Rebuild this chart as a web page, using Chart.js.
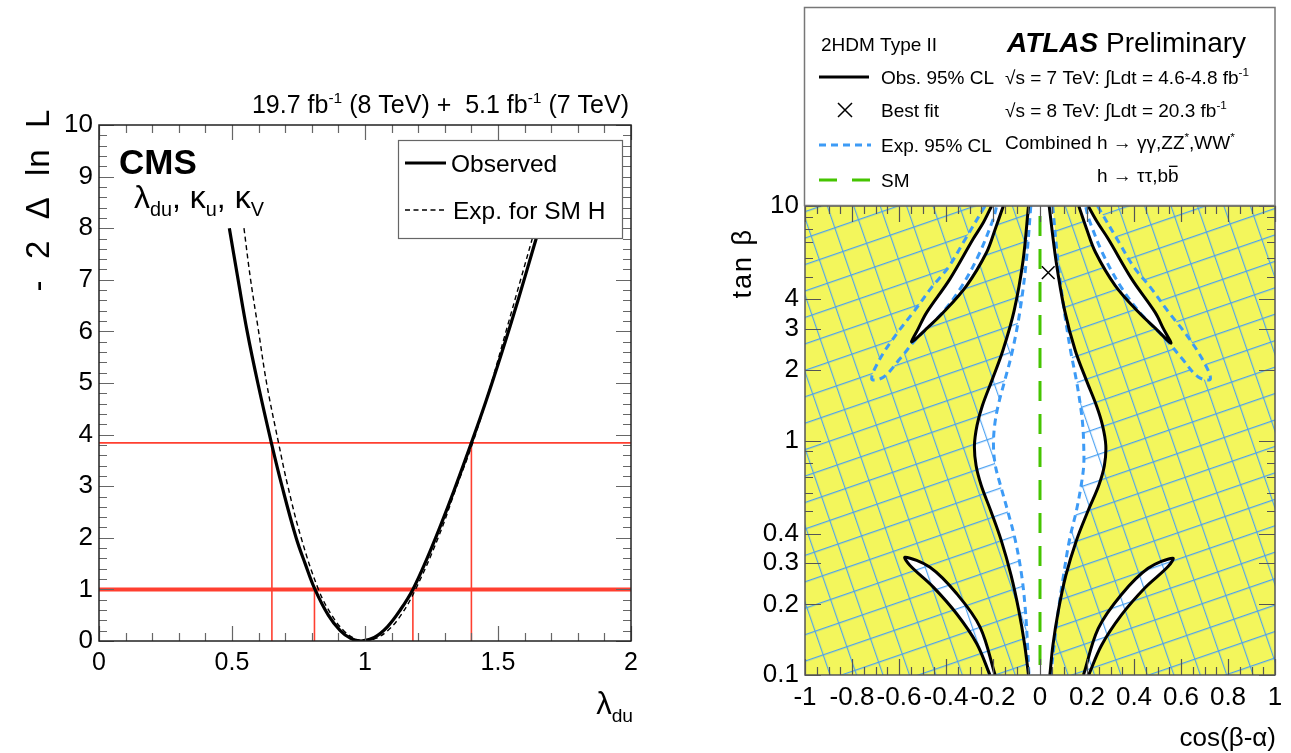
<!DOCTYPE html>
<html lang="en">
<head>
  <meta charset="UTF-8" />
  <title>lambda_du scan and 2HDM type II limits</title>
  <script src="https://cdn.jsdelivr.net/npm/chart.js"></script>
  <style>
    body { margin: 0; background: #fff; width: 1291px; height: 753px; overflow: hidden; }
    canvas { position: absolute; top: 0; }
    #cms { left: 0; }
    #atlas { left: 650px; }
  </style>
</head>
<body>
  <canvas id="cms" width="650" height="753"></canvas>
  <canvas id="atlas" width="641" height="753"></canvas>

  <script>
    // ---- CMS: -2 Delta ln L versus lambda_du ----
    const lambdaObs = [0.49, 0.523, 0.557, 0.597, 0.648, 0.688, 0.741, 0.775, 0.812, 0.862, 0.907, 0.946, 0.985,
                       1.035, 1.085, 1.135, 1.18, 1.235, 1.285, 1.335, 1.40, 1.455, 1.515, 1.575, 1.635, 1.655];
    const nllObs    = [8, 7, 6, 5, 3.84, 3, 2, 1.5, 1, 0.5, 0.2, 0.05, 0,
                       0.07, 0.28, 0.62, 1, 1.62, 2.25, 2.92, 3.84, 4.65, 5.6, 6.6, 7.65, 8.0];
    const lambdaExp = [0.545, 0.57, 0.60, 0.63, 0.675, 0.71, 0.76, 0.825, 0.875, 0.92, 0.96, 1.0,
                       1.04, 1.085, 1.135, 1.19, 1.275, 1.345, 1.405, 1.475, 1.53, 1.585, 1.64];
    const nllExp    = [8, 7, 6, 5, 3.84, 3, 2, 1, 0.5, 0.2, 0.05, 0,
                       0.05, 0.2, 0.5, 1, 2, 3, 3.84, 5, 6, 7, 8];
    const nllLevels = [1, 3.84];
    const lambdaCl68 = [0.81, 1.18];
    const lambdaCl95 = [0.65, 1.40];
    const lambdaTicks = [0, 0.5, 1, 1.5, 2];
    const nllTicks = [0, 1, 2, 3, 4, 5, 6, 7, 8, 9, 10];

    // ---- ATLAS: 2HDM type II, cos(beta-alpha) vs tan beta, [x, y] pairs ----
    const cosTicks = [-1, -0.8, -0.6, -0.4, -0.2, 0, 0.2, 0.4, 0.6, 0.8, 1];
    const tanbTicks = [0.1, 0.2, 0.3, 0.4, 1, 2, 3, 4, 10];

    const obsCentreLeft = [[-0.049, 10], [-0.072, 5.86], [-0.11, 3.58], [-0.158, 2.42], [-0.205, 1.80], [-0.245, 1.41],
      [-0.268, 1.16], [-0.279, 0.952], [-0.272, 0.782], [-0.25, 0.643], [-0.21, 0.503], [-0.165, 0.375],
      [-0.123, 0.266], [-0.09, 0.188], [-0.065, 0.134], [-0.049, 0.1]];
    const obsCentreRight = [[0.039, 10], [0.068, 5.86], [0.105, 3.58], [0.15, 2.42], [0.198, 1.80], [0.24, 1.41],
      [0.266, 1.16], [0.28, 0.952], [0.274, 0.782], [0.25, 0.643], [0.205, 0.503], [0.155, 0.375],
      [0.11, 0.266], [0.078, 0.188], [0.055, 0.134], [0.042, 0.1]];
    const expCentreLeft = [[-0.039, 10], [-0.058, 5.86], [-0.085, 3.58], [-0.117, 2.42], [-0.15, 1.80], [-0.178, 1.41],
      [-0.193, 1.16], [-0.198, 0.952], [-0.19, 0.782], [-0.168, 0.643], [-0.138, 0.503], [-0.105, 0.375],
      [-0.078, 0.266], [-0.062, 0.188], [-0.053, 0.134], [-0.047, 0.1]];
    const expCentreRight = [[0.054, 10], [0.076, 5.86], [0.103, 3.58], [0.13, 2.42], [0.155, 1.80], [0.172, 1.41],
      [0.182, 1.16], [0.186, 0.952], [0.186, 0.782], [0.175, 0.643], [0.155, 0.503], [0.125, 0.375],
      [0.10, 0.266], [0.078, 0.188], [0.06, 0.134], [0.046, 0.1]];

    const obsLobeLeftOuter = [[-0.206, 10], [-0.241, 8.5], [-0.284, 7.25], [-0.383, 4.89], [-0.482, 3.52], [-0.518, 3.0], [-0.546, 2.63]];
    const obsLobeLeftInner = [[-0.156, 10], [-0.19, 8.0], [-0.227, 6.35], [-0.312, 4.58], [-0.411, 3.52], [-0.49, 2.95], [-0.546, 2.63]];
    const obsLobeRightOuter = [[0.205, 10], [0.245, 8.5], [0.29, 7.25], [0.39, 4.89], [0.49, 3.52], [0.525, 3.0], [0.557, 2.6]];
    const obsLobeRightInner = [[0.165, 10], [0.198, 8.0], [0.236, 6.35], [0.32, 4.58], [0.42, 3.52], [0.5, 2.95], [0.557, 2.6]];

    const expLobeLeftOuter = [[-0.234, 10], [-0.326, 7.0], [-0.39, 5.48], [-0.461, 4.5], [-0.539, 3.52], [-0.61, 2.85], [-0.681, 2.23], [-0.716, 1.83]];
    const expLobeLeftInner = [[-0.184, 10], [-0.199, 8.8], [-0.262, 6.15], [-0.34, 4.43], [-0.426, 3.41], [-0.532, 2.67], [-0.596, 2.23], [-0.667, 1.86]];
    const expLobeRightOuter = [[0.245, 10], [0.336, 7.0], [0.4, 5.48], [0.47, 4.5], [0.548, 3.52], [0.62, 2.85], [0.69, 2.23], [0.725, 1.83]];
    const expLobeRightInner = [[0.194, 10], [0.208, 8.8], [0.271, 6.15], [0.35, 4.43], [0.436, 3.41], [0.54, 2.67], [0.605, 2.23], [0.675, 1.86]];

    const obsLowLeftUpper = [[-0.574, 0.318], [-0.468, 0.288], [-0.354, 0.222], [-0.255, 0.16], [-0.191, 0.1]];
    const obsLowLeftLower = [[-0.574, 0.318], [-0.553, 0.293], [-0.454, 0.237], [-0.354, 0.182], [-0.269, 0.136], [-0.213, 0.1]];
    const obsLowRightUpper = [[0.565, 0.315], [0.46, 0.285], [0.346, 0.22], [0.248, 0.158], [0.185, 0.1]];
    const obsLowRightLower = [[0.565, 0.315], [0.545, 0.29], [0.446, 0.235], [0.346, 0.18], [0.262, 0.134], [0.207, 0.1]];

    const bestFit = [0.035, 5.2];
    const smCos = 0;

    // ---- styles ----
    const FONT = '"Liberation Sans", Arial, Helvetica, sans-serif';
    const RED = '#ff3f30';
    const BLUE = '#3d9bf6';
    const GREEN = '#45c400';
    const YELLOW = '#f3f65c';
    const HATCH = '#4aa0f2';

    const xy = (xs, ys) => xs.map((x, i) => ({ x: x, y: ys[i] }));
    const pts = arr => arr.map(p => ({ x: p[0], y: p[1] }));
    const loop = (a, b) => pts(a.concat(b.slice().reverse()));

    function richText(ctx, x, y, parts, size, align) {
      const fontOf = (m, st) => (st || '') + ' ' + ((m === 'sup' || m === 'sub') ? size * 0.62 : size) + 'px ' + FONT;
      let total = 0;
      const widths = parts.map(([t, m, st]) => {
        ctx.font = fontOf(m, st);
        const w = ctx.measureText(t).width;
        total += w;
        return w;
      });
      let cx = align === 'right' ? x - total : align === 'center' ? x - total / 2 : x;
      ctx.textAlign = 'left';
      ctx.textBaseline = 'alphabetic';
      parts.forEach(([t, m, st], i) => {
        ctx.font = fontOf(m, st);
        const dy = m === 'sup' ? -size * 0.42 : m === 'sub' ? size * 0.25 : 0;
        ctx.fillText(t, cx, y + dy);
        if (m === 'bar') {
          ctx.fillRect(cx + 1, y - size * 0.86, widths[i] - 2, 1.3);
        }
        cx += widths[i];
      });
    }

    function frameTicks(o) {
      return {
        id: 'frameTicks',
        afterDatasetsDraw(chart) {
          const { ctx, chartArea: a, scales } = chart;
          ctx.save();
          ctx.strokeStyle = o.tickColor;
          ctx.lineWidth = 1.2;
          ctx.beginPath();
          o.xMinor.forEach(v => {
            const len = o.xMajor.includes(v) ? o.major : o.minor;
            const px = Math.round(scales.x.getPixelForValue(v)) + 0.5;
            ctx.moveTo(px, a.bottom); ctx.lineTo(px, a.bottom - len);
            ctx.moveTo(px, a.top); ctx.lineTo(px, a.top + len);
          });
          o.yMinor.forEach(v => {
            const len = o.yMajor.includes(v) ? o.major : o.minor;
            const py = Math.round(scales.y.getPixelForValue(v)) + 0.5;
            ctx.moveTo(a.left, py); ctx.lineTo(a.left + len, py);
            ctx.moveTo(a.right, py); ctx.lineTo(a.right - len, py);
          });
          ctx.stroke();
          ctx.strokeStyle = o.frameColor;
          ctx.lineWidth = o.frameWidth;
          ctx.strokeRect(a.left, a.top, a.right - a.left, a.bottom - a.top);
          ctx.restore();
        }
      };
    }

    // minor tick positions (axis decoration only)
    const steps = (from, to, step) => {
      const out = [];
      for (let v = from; v <= to + 1e-9; v += step) out.push(Math.round(v * 1000) / 1000);
      return out;
    };

    // ================= CMS chart =================
    const cmsDecor = {
      id: 'cmsDecor',
      afterDatasetsDraw(chart) {
        const ctx = chart.ctx;
        ctx.save();
        // legend box
        ctx.fillStyle = '#fff';
        ctx.fillRect(398, 140, 224, 98);
        ctx.strokeStyle = '#666';
        ctx.lineWidth = 1.2;
        ctx.strokeRect(398.5, 140.5, 224, 98);
        ctx.strokeStyle = '#000';
        ctx.lineWidth = 3;
        ctx.beginPath(); ctx.moveTo(405, 163); ctx.lineTo(446, 163); ctx.stroke();
        ctx.lineWidth = 1.4;
        ctx.setLineDash([5, 3.5]);
        ctx.beginPath(); ctx.moveTo(405, 210); ctx.lineTo(446, 210); ctx.stroke();
        ctx.setLineDash([]);
        ctx.fillStyle = '#000';
        ctx.font = '24.5px ' + FONT;
        ctx.textAlign = 'left';
        ctx.fillText('Observed', 451, 172);
        ctx.fillText('Exp. for SM H', 453, 219);
        // CMS label
        ctx.font = 'bold 35px ' + FONT;
        ctx.fillText('CMS', 119, 174);
        richText(ctx, 134, 208, [['\u03bb'], ['du', 'sub'], [', \u03ba'], ['u', 'sub'], [', \u03ba'], ['V', 'sub']], 32, 'left');
        ctx.restore();
      },
      afterDraw(chart) {
        const ctx = chart.ctx;
        ctx.save();
        ctx.fillStyle = '#000';
        richText(ctx, 629, 113, [['19.7 fb'], ['-1', 'sup'], [' (8 TeV) +  5.1 fb'], ['-1', 'sup'], [' (7 TeV)']], 25, 'right');
        richText(ctx, 633, 714, [['\u03bb'], ['du', 'sub']], 31, 'right');
        ctx.translate(40, 200);
        ctx.rotate(-Math.PI / 2);
        ctx.font = '33px ' + FONT;
        ctx.letterSpacing = '1px';
        ctx.textAlign = 'center';
        ctx.textBaseline = 'middle';
        ctx.fillText('-  2  \u0394  ln  L', 0, 0);
        ctx.restore();
      }
    };

    const redLine = (data, w) => ({
      data: data, borderColor: RED, borderWidth: w, pointRadius: 0, tension: 0, fill: false, order: 3
    });

    new Chart(document.getElementById('cms'), {
      type: 'line',
      data: {
        datasets: [
          { data: xy(lambdaObs, nllObs), borderColor: '#000', borderWidth: 3.2, pointRadius: 0, tension: 0.4, fill: false, order: 1 },
          { data: xy(lambdaExp, nllExp), borderColor: '#000', borderWidth: 1.4, borderDash: [5, 3.5], pointRadius: 0, tension: 0.4, fill: false, order: 2 },
          redLine([{ x: 0, y: nllLevels[0] }, { x: 2, y: nllLevels[0] }], 4),
          redLine([{ x: 0, y: nllLevels[1] }, { x: 2, y: nllLevels[1] }], 1.6),
          redLine([{ x: lambdaCl68[0], y: 0 }, { x: lambdaCl68[0], y: nllLevels[0] }], 1.6),
          redLine([{ x: lambdaCl68[1], y: 0 }, { x: lambdaCl68[1], y: nllLevels[0] }], 1.6),
          redLine([{ x: lambdaCl95[0], y: 0 }, { x: lambdaCl95[0], y: nllLevels[1] }], 1.6),
          redLine([{ x: lambdaCl95[1], y: 0 }, { x: lambdaCl95[1], y: nllLevels[1] }], 1.6)
        ]
      },
      options: {
        responsive: false,
        animation: false,
        events: [],
        layout: { padding: { left: 0, right: 19, top: 125, bottom: 72 } },
        plugins: { legend: { display: false }, tooltip: { enabled: false } },
        scales: {
          x: {
            type: 'linear', min: 0, max: 2,
            grid: { display: false, drawTicks: false }, border: { display: false },
            afterBuildTicks: s => { s.ticks = lambdaTicks.map(v => ({ value: v })); },
            afterFit: s => { s.height = 40; },
            ticks: { font: { family: FONT, size: 25 }, color: '#000', padding: 7, maxRotation: 0, autoSkip: false,
                     callback: v => String(v) }
          },
          y: {
            type: 'linear', min: 0, max: 10,
            grid: { display: false, drawTicks: false }, border: { display: false },
            afterBuildTicks: s => { s.ticks = nllTicks.map(v => ({ value: v })); },
            afterFit: s => { s.width = 99; },
            ticks: { font: { family: FONT, size: 26 }, color: '#000', padding: 6, autoSkip: false,
                     callback: v => String(v) }
          }
        }
      },
      plugins: [
        frameTicks({ xMajor: lambdaTicks, xMinor: steps(0, 2, 0.1), yMajor: nllTicks, yMinor: steps(0, 10, 0.2),
                     major: 15, minor: 8, tickColor: '#666', frameColor: '#222', frameWidth: 1.5 }),
        cmsDecor
      ]
    });

    // ================= ATLAS chart =================
    const atlasCtx = document.getElementById('atlas').getContext('2d');
    function hatchPattern(bg) {
      const n = 25;
      const tile = document.createElement('canvas');
      tile.width = n; tile.height = n;
      const g = tile.getContext('2d');
      g.fillStyle = bg;
      g.fillRect(0, 0, n, n);
      g.strokeStyle = HATCH;
      g.lineWidth = 1.1;
      g.beginPath();
      g.moveTo(0, 0.6); g.lineTo(n, 0.6);
      g.moveTo(0.6, 0); g.lineTo(0.6, n);
      g.stroke();
      const p = atlasCtx.createPattern(tile, 'repeat');
      p.setTransform(new DOMMatrix().rotateSelf(-19));
      return p;
    }
    const yellowHatch = hatchPattern(YELLOW);
    const whiteHatch = hatchPattern('#fff');

    const area = (data, colour, order) => ({
      data: data, backgroundColor: colour, borderWidth: 0, pointRadius: 0, tension: 0.35, fill: 'shape', order: order
    });
    const contour = (data, colour, dash, order) => ({
      data: data, borderColor: colour, borderWidth: 3, borderDash: dash, pointRadius: 0, tension: 0.35, fill: false, order: order
    });

    const obsCentre = loop(obsCentreLeft, obsCentreRight);
    const expCentre = loop(expCentreLeft, expCentreRight);
    const obsLobeL = loop(obsLobeLeftOuter, obsLobeLeftInner.slice(0, -1));
    const obsLobeR = loop(obsLobeRightOuter, obsLobeRightInner.slice(0, -1));
    const expLobeL = loop(expLobeLeftOuter, expLobeLeftInner);
    const expLobeR = loop(expLobeRightOuter, expLobeRightInner);
    const obsLowL = loop(obsLowLeftUpper.slice().reverse(), obsLowLeftLower.slice(1).reverse());
    const obsLowR = loop(obsLowRightUpper.slice().reverse(), obsLowRightLower.slice(1).reverse());

    const atlasDecor = {
      id: 'atlasDecor',
      beforeDatasetsDraw(chart) {
        const { ctx, chartArea: a } = chart;
        ctx.save();
        ctx.fillStyle = yellowHatch;
        ctx.fillRect(a.left, a.top, a.right - a.left, a.bottom - a.top);
        ctx.restore();
      },
      afterDraw(chart) {
        const ctx = chart.ctx;
        ctx.save();
        ctx.translate(-650, 0);
        // legend / label box
        ctx.fillStyle = '#fff';
        ctx.fillRect(804, 7, 471, 198);
        ctx.strokeStyle = '#777';
        ctx.lineWidth = 1.5;
        ctx.strokeRect(804.5, 7.5, 470.5, 198);
        ctx.fillStyle = '#000';
        ctx.font = '19px ' + FONT;
        ctx.textAlign = 'left';
        ctx.fillText('2HDM Type II', 821, 51);
        ctx.fillText('Obs. 95% CL', 881, 84);
        ctx.fillText('Best fit', 881, 117);
        ctx.fillText('Exp. 95% CL', 881, 152);
        ctx.fillText('SM', 881, 187);
        ctx.lineWidth = 3;
        ctx.strokeStyle = '#000';
        ctx.beginPath(); ctx.moveTo(819, 77); ctx.lineTo(869, 77); ctx.stroke();
        ctx.lineWidth = 1.5;
        ctx.beginPath();
        ctx.moveTo(838, 103); ctx.lineTo(852, 117);
        ctx.moveTo(852, 103); ctx.lineTo(838, 117);
        ctx.stroke();
        ctx.lineWidth = 3;
        ctx.strokeStyle = BLUE;
        ctx.setLineDash([7, 5]);
        ctx.beginPath(); ctx.moveTo(819, 145); ctx.lineTo(871, 145); ctx.stroke();
        ctx.strokeStyle = GREEN;
        ctx.setLineDash([18, 15]);
        ctx.beginPath(); ctx.moveTo(819, 180); ctx.lineTo(871, 180); ctx.stroke();
        ctx.setLineDash([]);
        richText(ctx, 1007, 52, [['ATLAS', '', 'italic bold'], [' Preliminary']], 28, 'left');
        richText(ctx, 1005, 84, [['\u221as = 7 TeV: \u222bLdt = 4.6-4.8 fb'], ['-1', 'sup']], 19, 'left');
        richText(ctx, 1005, 117, [['\u221as = 8 TeV: \u222bLdt = 20.3 fb'], ['-1', 'sup']], 19, 'left');
        richText(ctx, 1005, 149, [['Combined h \u2192 \u03b3\u03b3,ZZ'], ['*', 'sup'], [',WW'], ['*', 'sup']], 19, 'left');
        richText(ctx, 1097, 182, [['h \u2192 \u03c4\u03c4,b'], ['b', 'bar']], 19, 'left');
        // axis titles
        ctx.font = '26px ' + FONT;
        ctx.textAlign = 'right';
        ctx.fillText('cos(\u03b2-\u03b1)', 1276, 746);
        ctx.translate(751, 228);
        ctx.rotate(-Math.PI / 2);
        ctx.letterSpacing = '2px';
        ctx.font = '27px ' + FONT;
        ctx.fillText('tan \u03b2', 0, 0);
        ctx.restore();
      }
    };

    const yMinorLog = steps(0.1, 1, 0.1).concat(steps(2, 10, 1));

    new Chart(atlasCtx, {
      type: 'line',
      data: {
        datasets: [
          // filled regions
          area(expLobeL, YELLOW, 50),
          area(expLobeR, YELLOW, 50),
          area(obsCentre, whiteHatch, 40),
          area(obsLowL, whiteHatch, 40),
          area(obsLowR, whiteHatch, 40),
          area(obsLobeL, '#fff', 40),
          area(obsLobeR, '#fff', 40),
          area(expCentre, '#fff', 30),
          // SM line
          { data: [{ x: smCos, y: 0.1 }, { x: smCos, y: 10 }], borderColor: GREEN, borderWidth: 3, borderDash: [20, 13],
            borderDashOffset: -10, pointRadius: 0, tension: 0, fill: false, order: 20 },
          // expected contours
          contour(pts(expCentreLeft), BLUE, [7, 5], 10),
          contour(pts(expCentreRight), BLUE, [7, 5], 10),
          contour(expLobeL, BLUE, [7, 5], 10),
          contour(expLobeR, BLUE, [7, 5], 10),
          // observed contours
          contour(pts(obsCentreLeft), '#000', [], 5),
          contour(pts(obsCentreRight), '#000', [], 5),
          contour(obsLobeL, '#000', [], 5),
          contour(obsLobeR, '#000', [], 5),
          contour(obsLowL, '#000', [], 5),
          contour(obsLowR, '#000', [], 5),
          // best fit
          { data: [{ x: bestFit[0], y: bestFit[1] }], showLine: false, pointStyle: 'crossRot', pointRadius: 9,
            borderColor: '#000', borderWidth: 1.5, backgroundColor: '#000', order: 1 }
        ]
      },
      options: {
        responsive: false,
        animation: false,
        events: [],
        layout: { padding: { left: 0, right: 16, top: 206, bottom: 40 } },
        plugins: { legend: { display: false }, tooltip: { enabled: false } },
        scales: {
          x: {
            type: 'linear', min: -1, max: 1,
            grid: { display: false, drawTicks: false }, border: { display: false },
            afterBuildTicks: s => { s.ticks = cosTicks.map(v => ({ value: v })); },
            afterFit: s => { s.height = 38; },
            ticks: { font: { family: FONT, size: 26 }, color: '#000', padding: 7, maxRotation: 0, autoSkip: false,
                     callback: v => String(v) }
          },
          y: {
            type: 'logarithmic', min: 0.1, max: 10,
            grid: { display: false, drawTicks: false }, border: { display: false },
            afterBuildTicks: s => { s.ticks = tanbTicks.map(v => ({ value: v })); },
            afterFit: s => { s.width = 155; },
            ticks: { font: { family: FONT, size: 26 }, color: '#000', padding: 6, autoSkip: false,
                     callback: v => String(v) }
          }
        }
      },
      plugins: [
        atlasDecor,
        frameTicks({ xMajor: cosTicks, xMinor: steps(-1, 1, 0.05), yMajor: tanbTicks, yMinor: yMinorLog,
                     major: 16, minor: 8, tickColor: '#555', frameColor: '#555', frameWidth: 1.5 })
      ]
    });
  </script>
</body>
</html>
